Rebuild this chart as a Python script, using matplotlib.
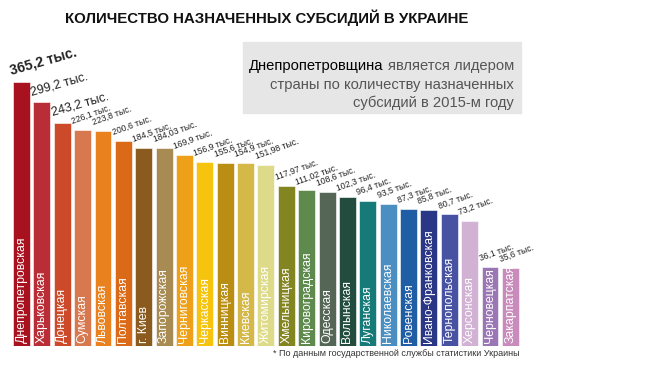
import matplotlib.pyplot as plt
from matplotlib.patches import Rectangle

plt.rcParams['font.family'] = ['Liberation Sans', 'DejaVu Sans']

# data
regions = ["Днепропетровская", "Харьковская", "Донецкая", "Сумская", "Львовская",
           "Полтавская", "г. Киев", "Запорожская", "Черниговская", "Черкасская",
           "Винницкая", "Киевская", "Житомирская", "Хмельницкая", "Кировоградская",
           "Одесская", "Волынская", "Луганская", "Николаевская", "Ровенская",
           "Ивано-Франковская", "Тернопольская", "Херсонская", "Черновецкая", "Закарпатская"]
values = [365.2, 299.2, 243.2, 226.1, 223.8, 200.6, 184.5, 184.03, 169.9, 156.9,
          155.6, 154.9, 151.98, 117.97, 111.02, 108.6, 102.3, 96.4, 93.5, 87.3,
          85.8, 80.7, 73.2, 36.1, 35.6]
value_labels = ["365,2", "299,2", "243,2", "226,1", "223,8", "200,6", "184,5", "184,03",
                "169,9", "156,9", "155,6", "154,9", "151,98", "117,97", "111,02", "108,6",
                "102,3", "96,4", "93,5", "87,3", "85,8", "80,7", "73,2", "36,1", "35,6"]
colors = ["#A8111E", "#B92D36", "#CC4A2A", "#D8784E", "#E8811E", "#DA6A18", "#8B5A1E",
          "#A88B52", "#EDA018", "#F6C40F", "#B98E12", "#D4B848", "#DDDB8A", "#838520",
          "#5E8A4E", "#566656", "#214C3E", "#167A78", "#4A8EC2", "#1F5EA4", "#2A3686",
          "#4752A2", "#D1B2D4", "#9A77B4", "#C88BBB"]

fig = plt.figure(figsize=(6.5, 3.65), dpi=100)
ax = fig.add_axes([0.0174, 0.052, 0.7835, 0.866])

# infographic bars are drawn on a compressed (fourth-root) scale
ax.set_yscale('function', functions=(lambda v: v ** 0.25, lambda t: t ** 4))
x = range(len(values))
ax.bar(x, values, width=0.83, color=colors, edgecolor='white', linewidth=0.4)
ax.set_xlim(-0.5, len(values) - 0.5)
ax.set_ylim(7.1, 582)
ax.axis('off')

for i, v in enumerate(values):
    if i == 0:
        size, weight, rot = 10, 'bold', 16
    elif i < 3:
        size, weight, rot = 9, 'normal', 16
    else:
        size, weight, rot = 6.2, 'normal', 20
    ax.annotate(value_labels[i] + " тыс.", (i - 0.45, v), xytext=(0, 3),
                textcoords='offset points', ha='left', va='bottom',
                rotation=rot, rotation_mode='anchor', fontsize=size,
                fontweight=weight, color='#222222')
    ax.annotate(regions[i], (i, 7.1), xytext=(0, 2), textcoords='offset points',
                ha='center', va='bottom', rotation=90, fontsize=8.8, color='white')

fig.text(267 / 650, 1 - 18 / 365, "КОЛИЧЕСТВО НАЗНАЧЕННЫХ СУБСИДИЙ В УКРАИНЕ",
         ha='center', va='center', fontsize=10.8, fontweight='bold', color='#111111')

fig.patches.append(Rectangle((243 / 650, 1 - 113 / 365), 278 / 650, 71 / 365,
                             transform=fig.transFigure, color='#E6E6E6', zorder=0))
fig.text(249 / 650, 1 - 66 / 365, "Днепропетровщина", ha='left', va='center',
         fontsize=10.6, color='black')
fig.text(514 / 650, 1 - 66 / 365, "является лидером", ha='right', va='center',
         fontsize=10.6, color='#555555')
fig.text(514 / 650, 1 - 85 / 365, "страны по количеству назначенных", ha='right',
         va='center', fontsize=10.6, color='#555555')
fig.text(514 / 650, 1 - 103 / 365, "субсидий в 2015-м году", ha='right',
         va='center', fontsize=10.6, color='#555555')

fig.text(520 / 650, 1 - 354 / 365, "* По данным государственной службы статистики Украины",
         ha='right', va='center', fontsize=6.5, color='#333333')

fig.savefig("out.png", dpi=100)
